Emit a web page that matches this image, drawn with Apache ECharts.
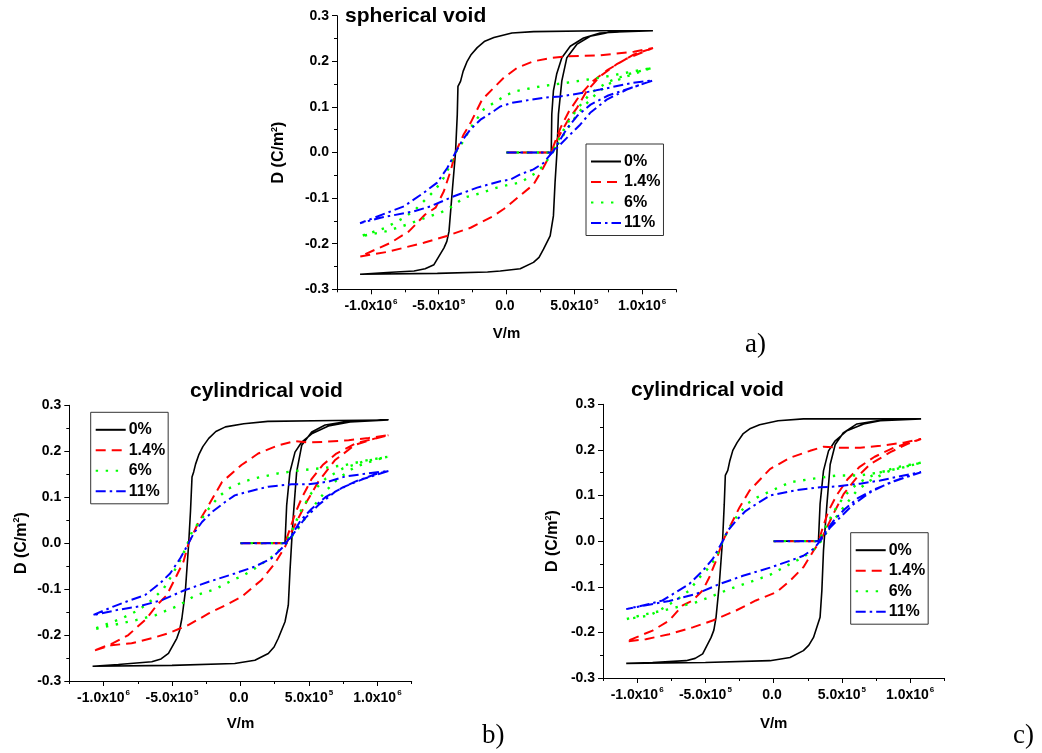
<!DOCTYPE html>
<html><head><meta charset="utf-8">
<script src="https://cdn.jsdelivr.net/npm/echarts@6/dist/echarts.min.js"></script>
<style>html,body{margin:0;padding:0;background:#fff}#c{width:1042px;height:753px}</style>
</head><body><div id="c"></div>
<script>
// ---------------- DATA ----------------
const seriesNames = ['0%', '1.4%', '6%', '11%'];
const panelTitles = ['spherical void', 'cylindrical void', 'cylindrical void'];
const panelLetters = ['a)', 'b)', 'c)'];
const xTickValues = [-1e6, -5e5, 0, 5e5, 1e6];
const xTickMantissa = ['-1.0x10', '-5.0x10', '0.0', '5.0x10', '1.0x10'];
const xTickExponent = ['6', '5', '', '5', '6'];

// panel a (spherical void)
const a0_init = [[0,0],[0.33e6,0],[0.334e6,0.084],[0.346e6,0.135],[0.37e6,0.172],[0.408e6,0.208],[0.47e6,0.233],[0.568e6,0.251],[0.69e6,0.262],[0.94e6,0.266],[1.08e6,0.267]];
const a0_up = [[0.69e6,0.267],[0.2e6,0.265],[0.04e6,0.262],[-0.093e6,0.252],[-0.16e6,0.244],[-0.216e6,0.23],[-0.26e6,0.215],[-0.29e6,0.2],[-0.32e6,0.178],[-0.339e6,0.156],[-0.358e6,0.145],[-0.363e6,0.083],[-0.376e6,0],[-0.4e6,-0.085],[-0.424e6,-0.173],[-0.44e6,-0.195],[-0.461e6,-0.209],[-0.535e6,-0.246],[-0.6e6,-0.255],[-0.682e6,-0.26],[-0.879e6,-0.263],[-1.08e6,-0.267]];
const a0_low = [[-0.51e6,-0.265],[-0.14e6,-0.262],[-0.046e6,-0.26],[0.101e6,-0.255],[0.199e6,-0.241],[0.24e6,-0.23],[0.273e6,-0.212],[0.322e6,-0.183],[0.346e6,-0.139],[0.358e6,-0.066],[0.372e6,0],[0.383e6,0.084],[0.408e6,0.157],[0.445e6,0.208],[0.518e6,0.237],[0.617e6,0.255],[0.764e6,0.264],[1.08e6,0.267]];

const a14_init = [[0,0],[0.33e6,0],[0.36e6,0.025],[0.4e6,0.055],[0.46e6,0.09],[0.54e6,0.125],[0.63e6,0.155],[0.74e6,0.18],[0.88e6,0.205],[1.08e6,0.229]];
const a14_up = [[0.94e6,0.221],[0.69e6,0.213],[0.45e6,0.211],[0.32e6,0.207],[0.2e6,0.2],[0.08e6,0.186],[-0.02e6,0.164],[-0.1e6,0.14],[-0.18e6,0.116],[-0.265e6,0.065],[-0.315e6,0.04],[-0.376e6,0],[-0.413e6,-0.041],[-0.462e6,-0.085],[-0.523e6,-0.121],[-0.6e6,-0.136],[-0.72e6,-0.173],[-0.855e6,-0.198],[-1.08e6,-0.228]];
const a14_low = [[-0.88e6,-0.218],[-0.61e6,-0.198],[-0.44e6,-0.183],[-0.265e6,-0.165],[-0.1e6,-0.14],[-0.02e6,-0.124],[0.05e6,-0.107],[0.2e6,-0.07],[0.27e6,-0.034],[0.33e6,0],[0.38e6,0.032],[0.45e6,0.069],[0.52e6,0.098],[0.59e6,0.134],[0.69e6,0.167],[0.81e6,0.193],[0.94e6,0.215],[1.08e6,0.229]];

const a6_init = [[0,0],[0.34e6,0],[0.38e6,0.025],[0.44e6,0.06],[0.52e6,0.095],[0.62e6,0.13],[0.75e6,0.155],[0.9e6,0.172],[1.08e6,0.186]];
const a6_up = [[0.936e6,0.178],[0.69e6,0.164],[0.445e6,0.153],[0.25e6,0.145],[0.076e6,0.135],[0.005e6,0.127],[-0.093e6,0.109],[-0.167e6,0.095],[-0.265e6,0.054],[-0.327e6,0.021],[-0.376e6,0],[-0.413e6,-0.026],[-0.462e6,-0.055],[-0.523e6,-0.081],[-0.597e6,-0.103],[-0.671e6,-0.125],[-0.756e6,-0.143],[-0.892e6,-0.165],[-1.08e6,-0.184]];
const a6_low = [[-0.892e6,-0.173],[-0.732e6,-0.158],[-0.572e6,-0.14],[-0.486e6,-0.132],[-0.4e6,-0.118],[-0.314e6,-0.099],[-0.2e6,-0.09],[-0.069e6,-0.077],[0.027e6,-0.07],[0.101e6,-0.066],[0.199e6,-0.048],[0.273e6,-0.029],[0.34e6,0],[0.445e6,0.05],[0.494e6,0.072],[0.568e6,0.101],[0.666e6,0.13],[0.764e6,0.152],[0.887e6,0.167],[1.034e6,0.182],[1.08e6,0.186]];

const a11_init = [[0,0],[0.34e6,0],[0.38e6,0.02],[0.44e6,0.05],[0.52e6,0.08],[0.62e6,0.105],[0.75e6,0.125],[0.9e6,0.14],[1.08e6,0.158]];
const a11_up = [[0.936e6,0.153],[0.69e6,0.138],[0.568e6,0.131],[0.396e6,0.123],[0.273e6,0.12],[0.101e6,0.112],[0.042e6,0.109],[-0.046e6,0.101],[-0.093e6,0.091],[-0.192e6,0.072],[-0.265e6,0.051],[-0.327e6,0.026],[-0.376e6,0],[-0.437e6,-0.034],[-0.511e6,-0.066],[-0.609e6,-0.088],[-0.756e6,-0.118],[-0.879e6,-0.132],[-1.08e6,-0.155]];
const a11_low = [[-0.929e6,-0.143],[-0.683e6,-0.129],[-0.56e6,-0.118],[-0.388e6,-0.096],[-0.216e6,-0.077],[-0.046e6,-0.063],[0.03e6,-0.059],[0.101e6,-0.048],[0.199e6,-0.037],[0.273e6,-0.023],[0.322e6,-0.005],[0.372e6,0.01],[0.445e6,0.032],[0.543e6,0.061],[0.617e6,0.087],[0.739e6,0.116],[0.887e6,0.138],[1.08e6,0.158]];

// panel b (cylindrical void)
const b0_init = [[0,0],[0.325e6,0],[0.337e6,0.082],[0.361e6,0.155],[0.398e6,0.198],[0.447e6,0.22],[0.52e6,0.238],[0.642e6,0.255],[0.8e6,0.264],[1.08e6,0.268]];
const b0_up = [[0.69e6,0.267],[0.2e6,0.265],[0.024e6,0.26],[-0.11e6,0.253],[-0.18e6,0.243],[-0.232e6,0.228],[-0.275e6,0.21],[-0.305e6,0.192],[-0.328e6,0.172],[-0.342e6,0.155],[-0.354e6,0.144],[-0.365e6,0.07],[-0.379e6,-0.004],[-0.403e6,-0.106],[-0.428e6,-0.164],[-0.445e6,-0.19],[-0.465e6,-0.207],[-0.526e6,-0.24],[-0.58e6,-0.252],[-0.648e6,-0.258],[-0.892e6,-0.264],[-1.08e6,-0.268]];
const b0_low = [[-0.5e6,-0.266],[-0.042e6,-0.262],[0.105e6,-0.255],[0.203e6,-0.24],[0.245e6,-0.226],[0.276e6,-0.207],[0.325e6,-0.171],[0.349e6,-0.135],[0.361e6,-0.062],[0.373e6,0],[0.386e6,0.061],[0.41e6,0.155],[0.447e6,0.213],[0.52e6,0.242],[0.618e6,0.257],[0.764e6,0.264],[1.08e6,0.268]];

const b14_init = [[0,0],[0.325e6,0],[0.36e6,0.03],[0.4e6,0.065],[0.45e6,0.1],[0.52e6,0.14],[0.6e6,0.17],[0.7e6,0.195],[0.84e6,0.217],[1.08e6,0.235]];
const b14_up = [[0.935e6,0.229],[0.79e6,0.224],[0.643e6,0.221],[0.495e6,0.219],[0.398e6,0.222],[0.276e6,0.213],[0.129e6,0.195],[0.007e6,0.17],[-0.135e6,0.133],[-0.232e6,0.083],[-0.305e6,0.046],[-0.379e6,0],[-0.416e6,-0.04],[-0.477e6,-0.077],[-0.538e6,-0.113],[-0.611e6,-0.135],[-0.685e6,-0.164],[-0.819e6,-0.2],[-0.941e6,-0.219],[-1.08e6,-0.235]];
const b14_low = [[-0.941e6,-0.222],[-0.795e6,-0.218],[-0.648e6,-0.207],[-0.526e6,-0.196],[-0.379e6,-0.178],[-0.232e6,-0.153],[-0.11e6,-0.135],[0.007e6,-0.117],[0.154e6,-0.08],[0.251e6,-0.044],[0.325e6,-0.008],[0.373e6,0.025],[0.422e6,0.054],[0.483e6,0.09],[0.569e6,0.134],[0.691e6,0.181],[0.837e6,0.214],[0.984e6,0.228],[1.08e6,0.235]];

const b6_init = [[0,0],[0.33e6,0],[0.38e6,0.03],[0.44e6,0.07],[0.52e6,0.11],[0.62e6,0.14],[0.75e6,0.163],[0.9e6,0.178],[1.08e6,0.188]];
const b6_up = [[0.935e6,0.181],[0.764e6,0.17],[0.593e6,0.163],[0.447e6,0.159],[0.276e6,0.152],[0.105e6,0.141],[0.024e6,0.134],[-0.086e6,0.119],[-0.159e6,0.101],[-0.232e6,0.075],[-0.281e6,0.054],[-0.354e6,0.025],[-0.39e6,-0.004],[-0.44e6,-0.037],[-0.501e6,-0.07],[-0.562e6,-0.099],[-0.648e6,-0.124],[-0.746e6,-0.146],[-0.868e6,-0.164],[-1.08e6,-0.188]];
const b6_low = [[-0.941e6,-0.179],[-0.77e6,-0.168],[-0.624e6,-0.157],[-0.453e6,-0.136],[-0.331e6,-0.114],[-0.184e6,-0.1],[-0.042e6,-0.078],[0.012e6,-0.072],[0.105e6,-0.055],[0.227e6,-0.03],[0.325e6,-0.004],[0.422e6,0.032],[0.52e6,0.075],[0.618e6,0.112],[0.715e6,0.141],[0.837e6,0.166],[0.984e6,0.181],[1.08e6,0.188]];

const b11_init = [[0,0],[0.33e6,0],[0.38e6,0.02],[0.44e6,0.05],[0.52e6,0.075],[0.62e6,0.1],[0.75e6,0.122],[0.9e6,0.14],[1.08e6,0.157]];
const b11_up = [[0.935e6,0.152],[0.764e6,0.145],[0.643e6,0.134],[0.495e6,0.128],[0.373e6,0.128],[0.203e6,0.123],[0.056e6,0.112],[-0.042e6,0.104],[-0.11e6,0.09],[-0.208e6,0.068],[-0.281e6,0.046],[-0.342e6,0.021],[-0.379e6,0],[-0.44e6,-0.033],[-0.514e6,-0.066],[-0.587e6,-0.087],[-0.697e6,-0.113],[-0.831e6,-0.127],[-0.929e6,-0.138],[-1.08e6,-0.157]];
const b11_low = [[-0.892e6,-0.145],[-0.746e6,-0.138],[-0.575e6,-0.124],[-0.404e6,-0.102],[-0.232e6,-0.084],[-0.042e6,-0.066],[0.105e6,-0.051],[0.227e6,-0.033],[0.325e6,-0.004],[0.398e6,0.025],[0.471e6,0.054],[0.569e6,0.083],[0.691e6,0.112],[0.837e6,0.134],[0.984e6,0.15],[1.08e6,0.157]];

// panel c (cylindrical void)
const c0_init = [[0,0],[0.328e6,0],[0.34e6,0.081],[0.365e6,0.154],[0.402e6,0.198],[0.451e6,0.22],[0.537e6,0.242],[0.659e6,0.257],[0.781e6,0.264],[1.08e6,0.268]];
const c0_up = [[0.708e6,0.268],[0.218e6,0.268],[0.032e6,0.264],[-0.103e6,0.255],[-0.17e6,0.247],[-0.225e6,0.235],[-0.268e6,0.216],[-0.299e6,0.199],[-0.322e6,0.175],[-0.336e6,0.155],[-0.354e6,0.144],[-0.362e6,0.08],[-0.373e6,0.008],[-0.398e6,-0.094],[-0.422e6,-0.167],[-0.438e6,-0.195],[-0.458e6,-0.211],[-0.52e6,-0.247],[-0.575e6,-0.257],[-0.642e6,-0.262],[-0.887e6,-0.266],[-1.08e6,-0.268]];
const c0_low = [[-0.5e6,-0.266],[-0.027e6,-0.262],[0.12e6,-0.255],[0.218e6,-0.24],[0.258e6,-0.228],[0.292e6,-0.211],[0.34e6,-0.167],[0.353e6,-0.109],[0.365e6,-0.021],[0.372e6,0.008],[0.39e6,0.08],[0.414e6,0.168],[0.451e6,0.212],[0.512e6,0.238],[0.61e6,0.257],[0.757e6,0.264],[1.08e6,0.268]];

const c14_init = [[0,0],[0.33e6,0],[0.36e6,0.03],[0.4e6,0.065],[0.46e6,0.1],[0.54e6,0.135],[0.63e6,0.163],[0.74e6,0.185],[0.88e6,0.205],[1.08e6,0.224]];
const c14_up = [[0.953e6,0.216],[0.781e6,0.209],[0.634e6,0.205],[0.463e6,0.205],[0.365e6,0.207],[0.267e6,0.198],[0.12e6,0.183],[-0.027e6,0.158],[-0.176e6,0.111],[-0.25e6,0.074],[-0.324e6,0.03],[-0.373e6,0],[-0.422e6,-0.043],[-0.471e6,-0.079],[-0.52e6,-0.108],[-0.593e6,-0.13],[-0.667e6,-0.141],[-0.765e6,-0.174],[-0.887e6,-0.196],[-1.08e6,-0.22]];
const c14_low = [[-0.936e6,-0.215],[-0.765e6,-0.204],[-0.593e6,-0.189],[-0.446e6,-0.174],[-0.275e6,-0.152],[-0.13e6,-0.13],[0.019e6,-0.112],[0.12e6,-0.087],[0.218e6,-0.057],[0.292e6,-0.021],[0.341e6,0],[0.39e6,0.03],[0.438e6,0.06],[0.512e6,0.103],[0.61e6,0.14],[0.708e6,0.169],[0.855e6,0.195],[0.978e6,0.213],[1.08e6,0.224]];

const c6_init = [[0,0],[0.33e6,0],[0.38e6,0.03],[0.44e6,0.065],[0.52e6,0.1],[0.62e6,0.128],[0.75e6,0.148],[0.9e6,0.162],[1.08e6,0.172]];
const c6_up = [[0.953e6,0.162],[0.781e6,0.151],[0.634e6,0.144],[0.463e6,0.144],[0.292e6,0.137],[0.12e6,0.129],[0.017e6,0.115],[-0.12e6,0.096],[-0.194e6,0.082],[-0.275e6,0.052],[-0.336e6,0.023],[-0.373e6,0],[-0.422e6,-0.036],[-0.495e6,-0.065],[-0.544e6,-0.08],[-0.618e6,-0.108],[-0.716e6,-0.13],[-0.838e6,-0.152],[-0.912e6,-0.163],[-1.08e6,-0.171]];
const c6_low = [[-0.936e6,-0.16],[-0.765e6,-0.149],[-0.569e6,-0.134],[-0.471e6,-0.123],[-0.324e6,-0.105],[-0.176e6,-0.09],[-0.027e6,-0.074],[0.12e6,-0.05],[0.218e6,-0.035],[0.316e6,-0.013],[0.365e6,0.008],[0.438e6,0.045],[0.512e6,0.074],[0.61e6,0.111],[0.708e6,0.133],[0.855e6,0.155],[1.08e6,0.172]];

const c11_init = [[0,0],[0.33e6,0],[0.38e6,0.02],[0.44e6,0.045],[0.52e6,0.07],[0.62e6,0.095],[0.75e6,0.115],[0.9e6,0.133],[1.08e6,0.151]];
const c11_up = [[0.953e6,0.144],[0.781e6,0.133],[0.634e6,0.126],[0.463e6,0.12],[0.34e6,0.118],[0.169e6,0.112],[-0.027e6,0.1],[-0.108e6,0.085],[-0.206e6,0.066],[-0.275e6,0.045],[-0.336e6,0.023],[-0.373e6,0],[-0.446e6,-0.039],[-0.52e6,-0.065],[-0.618e6,-0.094],[-0.716e6,-0.112],[-0.814e6,-0.13],[-0.912e6,-0.138],[-1.08e6,-0.149]];
const c11_low = [[-0.961e6,-0.142],[-0.765e6,-0.131],[-0.569e6,-0.116],[-0.397e6,-0.094],[-0.225e6,-0.076],[-0.027e6,-0.058],[0.12e6,-0.043],[0.218e6,-0.032],[0.292e6,-0.017],[0.34e6,0],[0.414e6,0.03],[0.487e6,0.052],[0.585e6,0.081],[0.708e6,0.107],[0.855e6,0.129],[1.002e6,0.144],[1.08e6,0.151]];

// ---------------- LAYOUT / STYLE ----------------
const FONT = '"Liberation Sans", Arial, Helvetica, sans-serif';
const SERIF = '"Liberation Serif", "Times New Roman", serif';
const grids = [
  {left: 337, top: 15.7, width: 339, height: 273.6},
  {left: 69.3, top: 405.3, width: 342.4, height: 275.7},
  {left: 603, top: 404.3, width: 341.3, height: 273.7}
];
const yNameGap = [50, 40, 42];
const xNameGap = [37, 35, 38];
const legendPos = [{left: 586, top: 144}, {left: 90.7, top: 412.3}, {left: 850.7, top: 532.7}];
const titlePos = [{left: 345, top: 6}, {left: 190, top: 381}, {left: 631, top: 380}];
const letterPos = [{x: 745, y: 345}, {x: 482, y: 736}, {x: 1013, y: 736}];

const lineStyles = [
  {color: '#000000', width: 1.6, type: 'solid'},
  {color: '#ff0000', width: 2, type: [10, 6]},
  {color: '#00ff00', width: 2.4, type: [2.4, 7.6]},
  {color: '#0000ff', width: 2, type: [10, 4, 2.5, 4]}
];

const panelData = [
  [a0_init.concat(a0_up, a0_low), a14_init.concat(a14_up, a14_low), a6_init.concat(a6_up, a6_low), a11_init.concat(a11_up, a11_low)],
  [b0_init.concat(b0_up, b0_low), b14_init.concat(b14_up, b14_low), b6_init.concat(b6_up, b6_low), b11_init.concat(b11_up, b11_low)],
  [c0_init.concat(c0_up, c0_low), c14_init.concat(c14_up, c14_low), c6_init.concat(c6_up, c6_low), c11_init.concat(c11_up, c11_low)]
];

const black = {color: '#000', width: 1};
function xLabelFmt(v) {
  const i = xTickValues.findIndex(t => Math.abs(t - v) < 1);
  if (i < 0) return '';
  // an empty superscript slot keeps every label on the same baseline
  return '{m|' + xTickMantissa[i] + '}{s|' + (xTickExponent[i] || ' ') + '}';
}

const xAxes = [], yAxes = [], series = [], legends = [], titles = [], graphics = [];
grids.forEach((g, i) => {
  xAxes.push({
    gridIndex: i, type: 'value', min: -1.25e6, max: 1.25e6, interval: 2.5e5,
    axisLine: {show: true, onZero: false, lineStyle: black},
    axisTick: {show: true, length: 3, lineStyle: black},
    axisLabel: {
      customValues: xTickValues, formatter: xLabelFmt, margin: 8, color: '#000',
      rich: {
        m: {fontSize: 14, fontWeight: 'bold', fontFamily: FONT, color: '#000', verticalAlign: 'bottom'},
        s: {fontSize: 8, fontWeight: 'bold', fontFamily: FONT, color: '#000', verticalAlign: 'bottom', padding: [0, 0, 8, 1]}
      }
    },
    splitLine: {show: false},
    name: 'V/m', nameLocation: 'middle', nameGap: xNameGap[i],
    nameTextStyle: {fontSize: 15, fontWeight: 'bold', fontFamily: FONT, color: '#000'}
  });
  yAxes.push({
    gridIndex: i, type: 'value', min: -0.3, max: 0.3, interval: 0.1,
    axisLine: {show: true, onZero: false, lineStyle: black},
    axisTick: {show: true, length: 5, lineStyle: black},
    minorTick: {show: true, splitNumber: 2, length: 3, lineStyle: black},
    axisLabel: {
      formatter: v => (Math.abs(v) < 1e-9 ? '0.0' : v.toFixed(1)), margin: 8,
      fontSize: 14, fontWeight: 'bold', fontFamily: FONT, color: '#000'
    },
    splitLine: {show: false}, minorSplitLine: {show: false},
    name: '{n|D (C/m}{s|2}{n|)}', nameLocation: 'middle', nameGap: yNameGap[i], nameRotate: 90,
    nameTextStyle: {
      fontSize: 16, fontWeight: 'bold', fontFamily: FONT, color: '#000',
      rich: {
        n: {fontSize: 16, fontWeight: 'bold', fontFamily: FONT, color: '#000', verticalAlign: 'bottom'},
        s: {fontSize: 9, fontWeight: 'bold', fontFamily: FONT, color: '#000', verticalAlign: 'bottom', padding: [0, 0, 8, 0]}
      }
    }
  });
  panelData[i].forEach((d, k) => {
    series.push({
      type: 'line', name: seriesNames[k], xAxisIndex: i, yAxisIndex: i,
      data: d, symbol: 'none', showSymbol: false, smooth: false,
      lineStyle: lineStyles[k], itemStyle: {color: lineStyles[k].color},
      animation: false, silent: true, z: 2 + k
    });
  });
  legends.push({
    data: seriesNames, orient: 'vertical', left: legendPos[i].left, top: legendPos[i].top,
    itemWidth: 30, itemHeight: 14, itemGap: 4.5,
    padding: [9.5, 3, 4.5, 4], borderColor: '#333', borderWidth: 1, borderRadius: 0,
    backgroundColor: '#fff', selectedMode: false,
    itemStyle: {opacity: 0},
    textStyle: {fontSize: 16, fontWeight: 'bold', fontFamily: FONT, color: '#000', padding: [0, 0, 0, -2]}
  });
  titles.push({
    text: panelTitles[i], left: titlePos[i].left, top: titlePos[i].top, padding: 0,
    textStyle: {fontSize: 21, fontWeight: 'bold', fontFamily: FONT, color: '#000'}
  });
  graphics.push({
    type: 'text', x: letterPos[i].x, y: letterPos[i].y,
    style: {text: panelLetters[i], fontSize: 27, fontFamily: SERIF, fill: '#000', verticalAlign: 'middle', align: 'left'}
  });
});

// extra overlay axes: longer major ticks at labelled positions
grids.forEach((g, i) => {
  xAxes.push({
    gridIndex: i, type: 'value', min: -1.25e6, max: 1.25e6, interval: 2.5e5, position: 'bottom',
    axisLine: {show: false, onZero: false},
    axisTick: {show: true, length: 5, customValues: xTickValues, lineStyle: black},
    axisLabel: {show: false}, splitLine: {show: false}
  });
});

const chart = echarts.init(document.getElementById('c'), null, {renderer: 'canvas'});
chart.setOption({
  backgroundColor: '#ffffff',
  animation: false,
  title: titles,
  grid: grids,
  xAxis: xAxes,
  yAxis: yAxes,
  legend: legends,
  series: series,
  graphic: graphics
});
</script>
</body></html>
